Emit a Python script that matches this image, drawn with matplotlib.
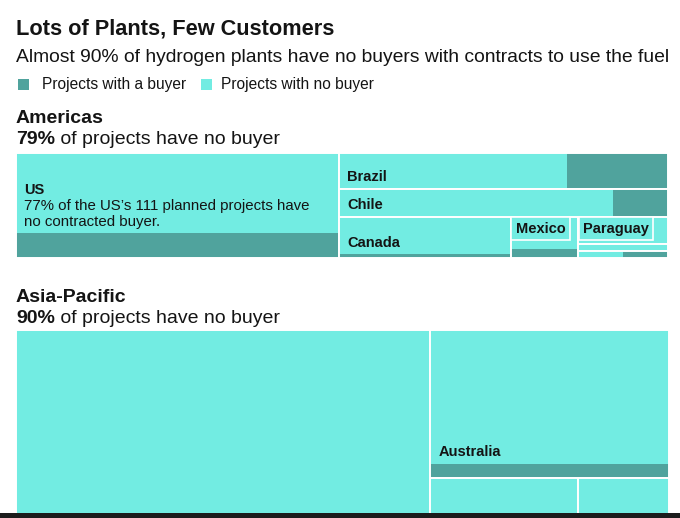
import matplotlib
matplotlib.use("Agg")
import matplotlib.pyplot as plt
from matplotlib.patches import Rectangle

# project counts per country (hidden part of Asia-Pacific is guessed)
americas_names = ["US", "Brazil", "Chile", "Canada", "Mexico", "Paraguay", "Uruguay", "Argentina"]
americas_total = [111, 39, 30, 23, 9, 8, 2, 2]
americas_buyer = [26, 12, 5, 2, 2, 0, 0, 1]

asia_names = ["China", "Australia", "India", "Japan"]
asia_total = [177, 52, 31, 19]
asia_buyer = [17, 5, 3, 3]

legend_labels = ["Projects with a buyer", "Projects with no buyer"]
title = "Lots of Plants, Few Customers"
subtitle = "Almost 90% of hydrogen plants have no buyers with contracts to use the fuel"

LIGHT = "#72ECE2"
DARK = "#50A39D"
INK = "#141414"

plt.rcParams['font.family'] = ['Liberation Sans', 'DejaVu Sans']

W, H = 680, 518
fig = plt.figure(figsize=(6.8, 5.18), dpi=100)
overlay = fig.add_axes([0, 0, 1, 1])
overlay.set_xlim(0, W)
overlay.set_ylim(H, 0)
overlay.axis('off')


def px_axes(x0, y0, x1, y1, full_h=None):
    # axes placed in pixel units, y growing downwards
    ax = fig.add_axes([x0 / W, 1 - y1 / H, (x1 - x0) / W, (y1 - y0) / H])
    ax.set_xlim(0, x1 - x0)
    ax.set_ylim(y1 - y0, 0)
    ax.axis('off')
    return ax, (0, 0, x1 - x0, full_h or (y1 - y0))


def cut(rect, weights, across):
    # slice a rect side by side (across) or stacked, proportional to weights
    x, y, w, h = rect
    tot = sum(weights)
    out, pos = [], 0.0
    for v in weights:
        f = v / tot
        if across:
            out.append((x + pos * w, y, f * w, h))
        else:
            out.append((x, y + pos * h, w, f * h))
        pos += f
    return out


def country(ax, rect, total, buyer, across=False):
    light, dark = cut(rect, [total - buyer, buyer], across)
    ax.add_patch(Rectangle(light[:2], light[2], light[3], fc=LIGHT, lw=0))
    ax.add_patch(Rectangle(dark[:2], dark[2], dark[3], fc=DARK, lw=0))
    ax.add_patch(Rectangle(rect[:2], rect[2], rect[3], fill=False, ec='white', lw=1.4))
    return light


def label(ax, light, name, boxed=False):
    x, y, w, h = light
    if boxed:
        # small cells get their name in a box pinned to the top
        return ax.annotate(name, (x, y), xytext=(3.3, -3.3), textcoords='offset points',
                           va='top', ha='left', fontsize=10.5, weight='bold', color=INK,
                           bbox=dict(boxstyle='square,pad=0.3', fc=LIGHT, ec='white', lw=1.2))
    return ax.annotate(name, (x, y + h), xytext=(6, 3.5), textcoords='offset points',
                       va='bottom', ha='left', fontsize=10.5, weight='bold', color=INK)


def share_no_buyer(total, buyer):
    return round(100 * (1 - sum(buyer) / sum(total)))


def header(y_name, y_line, name, total, buyer):
    overlay.text(16, y_name, name, fontsize=14, weight='bold', color=INK, va='baseline')
    pct = overlay.text(16, y_line, f"{share_no_buyer(total, buyer)}%", fontsize=14,
                       weight='bold', color=INK, va='baseline')
    overlay.annotate(" of projects have no buyer", (1, 0), xycoords=pct, fontsize=14,
                     color=INK, va='bottom', ha='left')


# titles and legend
overlay.text(16, 34, title, fontsize=15.7, weight='bold', color=INK, va='baseline')
overlay.text(16, 62, subtitle, fontsize=13.85, color=INK, va='baseline')
overlay.add_patch(Rectangle((18, 79), 11, 11, fc=DARK, lw=0))
overlay.text(42, 89, legend_labels[0], fontsize=11.2, color=INK, va='baseline')
overlay.add_patch(Rectangle((201, 79), 11, 11, fc=LIGHT, lw=0))
overlay.text(221, 89, legend_labels[1], fontsize=11.2, color=INK, va='baseline')

# Americas
header(123, 144, "Americas", americas_total, americas_buyer)
t, b = americas_total, americas_buyer
ax, full = px_axes(16, 153, 668, 258)
us_r, rest_r = cut(full, [t[0], sum(t[1:])], True)
br_r, cl_r, low_r = cut(rest_r, [t[1], t[2], sum(t[3:])], False)
ca_r, mx_r, oth_r = cut(low_r, [t[3], t[4], sum(t[5:])], True)
small_r = cut(oth_r, t[5:], False)

us_light = country(ax, us_r, t[0], b[0])
desc = ax.annotate(f"{share_no_buyer([t[0]], [b[0]])}% of the US’s {t[0]} planned projects have\n"
                   "no contracted buyer.", (us_light[0], us_light[1] + us_light[3]),
                   xytext=(6, 3.5), textcoords='offset points', va='bottom', ha='left',
                   fontsize=10.8, color=INK, linespacing=1.1)
ax.annotate(americas_names[0], (0, 1), xycoords=desc, xytext=(0, 2), textcoords='offset points',
            va='bottom', ha='left', fontsize=10.5, weight='bold', color=INK)

label(ax, country(ax, br_r, t[1], b[1], across=True), americas_names[1])
label(ax, country(ax, cl_r, t[2], b[2], across=True), americas_names[2])
label(ax, country(ax, ca_r, t[3], b[3]), americas_names[3])
label(ax, country(ax, mx_r, t[4], b[4]), americas_names[4], boxed=True)
py_light = country(ax, small_r[0], t[5], b[5])
country(ax, small_r[1], t[6], b[6])
country(ax, small_r[2], t[7], b[7], across=True)
label(ax, py_light, americas_names[5], boxed=True)

# Asia-Pacific (chart continues below the visible crop)
header(302, 323, "Asia-Pacific", asia_total, asia_buyer)
t, b = asia_total, asia_buyer
ax, full = px_axes(16, 330, 669, 518, full_h=290)
cn_r, right_r = cut(full, [t[0], sum(t[1:])], True)
au_r, low_r = cut(right_r, [t[1], sum(t[2:])], False)
in_r, jp_r = cut(low_r, t[2:], True)
country(ax, cn_r, t[0], b[0])
label(ax, country(ax, au_r, t[1], b[1]), asia_names[1])
country(ax, in_r, t[2], b[2])
country(ax, jp_r, t[3], b[3])

# dark strip along the bottom edge of the screenshot
fig.add_artist(Rectangle((0, 0), 1, 5 / H, transform=fig.transFigure, fc='#1c1c1c', lw=0))

fig.savefig("out.png", dpi=100)
